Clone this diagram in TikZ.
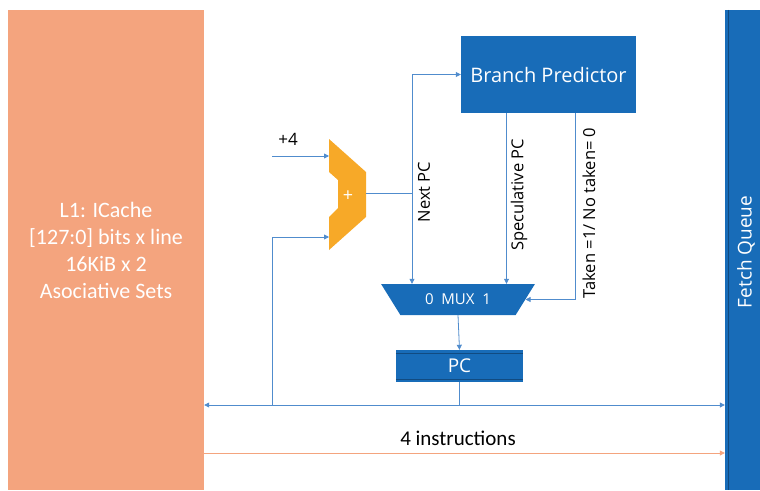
\documentclass[tikz,border=0pt]{standalone}
\usepackage{fontspec}
\setmainfont{Open Sans}
\newfontfamily\calfont{Carlito}
\usetikzlibrary{positioning,shapes.geometric,arrows.meta}
\definecolor{salmon}{RGB}{244,164,126}
\definecolor{dblue}{RGB}{24,108,184}
\definecolor{lblue}{RGB}{80,140,205}
\definecolor{amber}{RGB}{247,169,40}
\begin{document}
\begin{tikzpicture}[x=1pt,y=-1pt,
	blk/.style={fill=dblue,text=white,inner sep=0pt},
	wire/.style={draw=lblue,line width=0.8pt},
	arr/.style={wire,-{Triangle[length=5pt,width=5pt]}},
	lab/.style={rotate=90,font=\fontsize{16.5}{18}\selectfont}]
	\useasboundingbox (0,0) rectangle (760,490);
	\node[fill=salmon,text=white,minimum width=196,minimum height=480,inner sep=0pt,align=center,
		font=\calfont\fontsize{22}{27}\selectfont] (l1) at (106,250)
		{L1: ICache\\ {[127:0]} bits x line\\ 16KiB x 2\\ Asociative Sets};
	\node[blk,minimum width=35,minimum height=480] (fq) at (742.5,250) {};
	\draw[dblue!70!black] ([xshift=3pt]fq.north west) -- ([xshift=3pt]fq.south west);
	\node[rotate=90,text=white,font=\fontsize{19}{21}\selectfont] (fqt) at (746,252) {Fetch Queue};
	\node[blk,minimum width=175,minimum height=77,font=\fontsize{20}{22}\selectfont] (bp) at (548.5,74.5) {Branch Predictor};
	\node[blk,trapezium,trapezium angle=45,shape border rotate=180,trapezium stretches=true,
		minimum width=155,minimum height=31,font=\fontsize{15}{17}\selectfont] (mux) at (458,299.5) {0\ \ MUX\ \ 1};
	\node[blk,minimum width=127,minimum height=32,font=\fontsize{19}{21}\selectfont] (pc) at (459.5,366) {PC};
	\draw[dblue!70!black] ([yshift=-3pt]pc.north west) -- ([yshift=-3pt]pc.north east);
	\draw[dblue!70!black] ([yshift=3pt]pc.south west) -- ([yshift=3pt]pc.south east);
	\fill[amber] (329,139) -- (366,172) -- (366,217) -- (329,250) -- (329,217)
		-- (338,208) -- (338,180) -- (329,172) -- cycle;
	\node[text=white,font=\fontsize{18}{20}\selectfont] (add) at (348,196) {+};
	\coordinate (addA) at (329,156);
	\coordinate (addB) at (329,237);
	\coordinate (addO) at (366,193);
	\coordinate (np) at (412,193);
	\coordinate (fb) at (272,405);
	\coordinate (bus) at (0,405);
	\coordinate (ins) at (0,453);
	\node[font=\fontsize{17}{19}\selectfont] (four) at (288,139) {+4};
	\draw[arr] (272,156) -- (addA);
	\draw[arr] (fb) |- (addB);
	\draw[wire] (addO) -- (np);
	\draw[arr] (np) |- (bp.west);
	\draw[arr] (np) -- (np |- mux.north);
	\draw[arr] ([xshift=-42pt]bp.south) -- ([xshift=-42pt]bp.south |- mux.north);
	\draw[arr] ([xshift=27pt]bp.south) |- (mux.east);
	\draw[arr] (mux.south) -- (pc.north);
	\draw[wire] (pc.south) -- (pc.south |- bus);
	\draw[wire,{Triangle[length=5pt,width=5pt]}-{Triangle[length=5pt,width=5pt]}] (l1.east |- bus) -- (fq.west |- bus);
	\node[lab] (nextlbl) at (424,192) {Next PC};
	\node[lab] (speclbl) at (519,195) {Speculative PC};
	\node[lab] (takenlbl) at (589,213) {Taken =1/ No taken= 0};
	\node[font=\calfont\fontsize{21}{23}\selectfont] (instr) at (458,438) {4 instructions};
	\draw[draw=salmon,line width=0.8pt,-{Triangle[length=5pt,width=5pt]}] (l1.east |- ins) -- (fq.west |- ins);
\end{tikzpicture}
\end{document}
